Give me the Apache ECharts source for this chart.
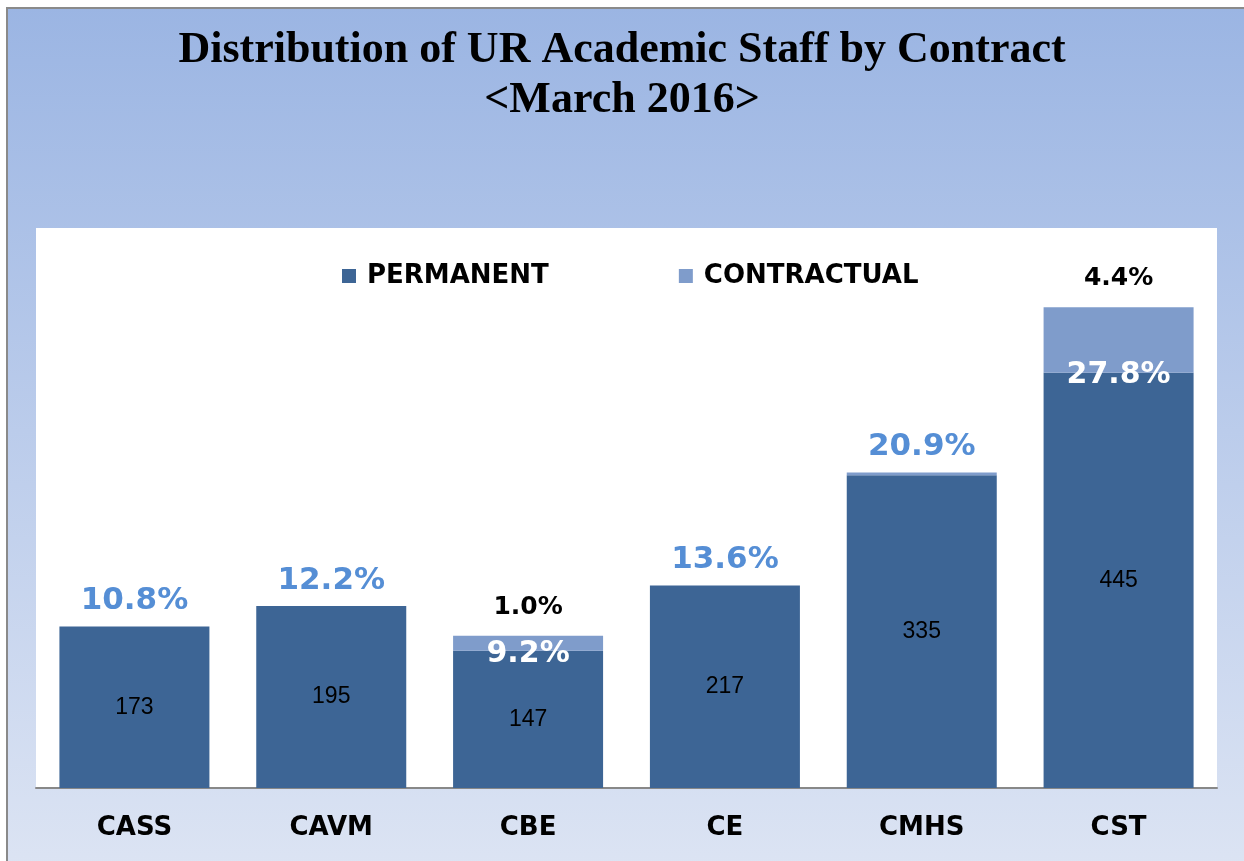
<!DOCTYPE html>
<html>
<head>
<meta charset="utf-8">
<script src="https://cdn.jsdelivr.net/npm/echarts@6/dist/echarts.min.js"></script>
<style>
  html, body { margin: 0; padding: 0; background: #fff; }
  #chart { width: 1244px; height: 861px; }
</style>
</head>
<body>
<div id="chart"></div>
<script>
  // values
  var colleges = ['CASS', 'CAVM', 'CBE', 'CE', 'CMHS', 'CST'];
  var permanent = [173, 195, 147, 217, 335, 445];
  var contractual = [0, 0, 16, 0, 3, 70];
  var permanentPct = ['10.8%', '12.2%', '9.2%', '13.6%', '20.9%', '27.8%'];
  var contractualPct = ['', '', '1.0%', '', '', '4.4%'];

  var boldSans = 'DejaVu Sans';

  var chart = echarts.init(document.getElementById('chart'));

  // permanent bars: white % label sitting on the top edge when a contractual part is drawn above
  var permData = permanent.map(function (v, i) {
    return {
      value: v,
      stacked: contractual[i] >= 10
    };
  });

  chart.setOption({
    backgroundColor: '#ffffff',
    graphic: [{
      type: 'rect',
      z: -10,
      shape: { x: 7, y: 8, width: 1300, height: 900 },
      style: {
        fill: new echarts.graphic.LinearGradient(0, 0, 0, 1, [
          { offset: 0, color: '#9bb5e3' },
          { offset: 1, color: '#dfe6f4' }
        ]),
        stroke: '#8a8a8a',
        lineWidth: 2
      }
    }],
    title: {
      text: 'Distribution of UR Academic Staff by Contract\n<March 2016>',
      left: 'center',
      top: 21,
      textStyle: {
        fontFamily: 'Liberation Serif',
        fontWeight: 'bold',
        fontSize: 44,
        lineHeight: 50,
        color: '#000'
      }
    },
    legend: {
      left: 337,
      top: 258,
      itemWidth: 14,
      itemHeight: 14,
      itemGap: 130,
      icon: 'rect',
      textStyle: {
        fontFamily: boldSans,
        fontWeight: 'bold',
        fontSize: 26,
        color: '#000',
        padding: [0, 0, 0, 6]
      },
      data: ['PERMANENT', 'CONTRACTUAL']
    },
    grid: {
      left: 36,
      right: 27,
      top: 228,
      bottom: 73,
      show: true,
      backgroundColor: '#ffffff',
      borderWidth: 0
    },
    xAxis: {
      type: 'category',
      data: colleges,
      axisLine: { lineStyle: { color: '#888888', width: 2 } },
      axisTick: { show: false },
      axisLabel: {
        margin: 27,
        fontFamily: boldSans,
        fontWeight: 'bold',
        fontSize: 26,
        color: '#000'
      }
    },
    yAxis: {
      type: 'value',
      min: 0,
      max: 600,
      show: false,
      splitLine: { show: false }
    },
    series: [{
      name: 'PERMANENT',
      type: 'bar',
      stack: 'staff',
      barWidth: 150,
      itemStyle: { color: '#3d6595' },
      data: permData,
      label: {
        show: true,
        position: 'inside',
        fontFamily: 'Liberation Sans',
        fontSize: 23,
        color: '#000',
        formatter: function (p) { return p.value; }
      },
      z: 2
    }, {
      // the % labels of the permanent bars
      name: 'PERMANENT',
      type: 'bar',
      barWidth: 150,
      barGap: '-100%',
      itemStyle: { color: 'rgba(0,0,0,0)' },
      silent: true,
      data: permData.map(function (d, i) {
        var top = d.value + (d.stacked ? 0 : contractual[i]);
        return {
          value: top,
          label: d.stacked ? {
            position: ['50%', 3],
            align: 'center',
            verticalAlign: 'middle',
            color: '#ffffff',
            fontSize: 30
          } : {
            position: 'top',
            distance: 10,
            color: '#558ed5',
            fontSize: 31
          }
        };
      }),
      label: {
        show: true,
        fontFamily: boldSans,
        fontWeight: 'bold',
        formatter: function (p) { return permanentPct[p.dataIndex]; }
      },
      z: 5
    }, {
      name: 'CONTRACTUAL',
      type: 'bar',
      stack: 'staff',
      barWidth: 150,
      itemStyle: { color: '#7f9ccb' },
      data: contractual,
      label: {
        show: true,
        position: 'top',
        distance: 16,
        fontFamily: boldSans,
        fontWeight: 'bold',
        fontSize: 25,
        color: '#000',
        formatter: function (p) { return contractualPct[p.dataIndex]; }
      },
      z: 2
    }]
  });
</script>
</body>
</html>
